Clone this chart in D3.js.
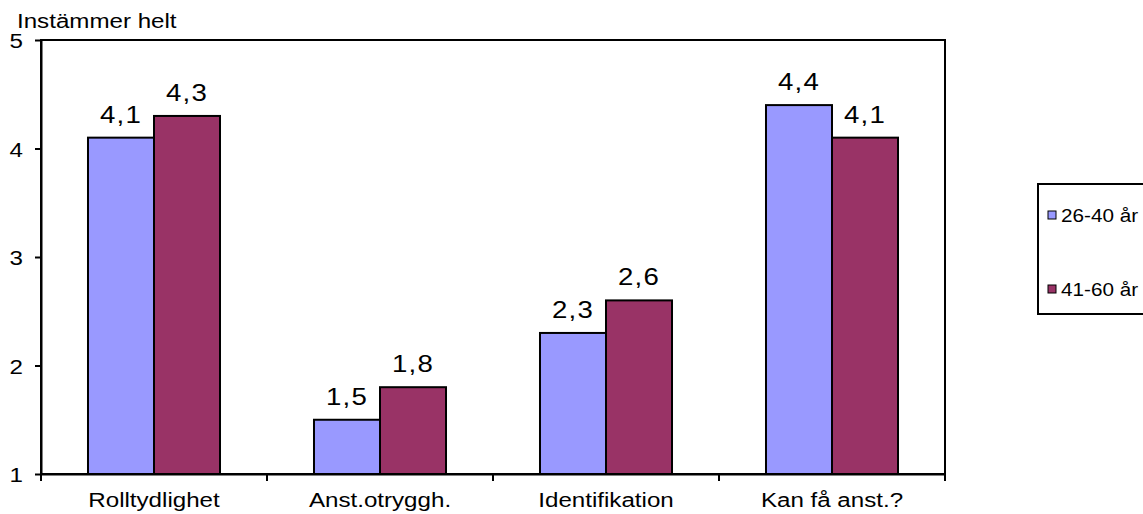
<!DOCTYPE html>
<html>
<head>
<meta charset="utf-8">
<script src="https://cdn.jsdelivr.net/npm/d3@7"></script>
<style>
  body { margin: 0; background: #fff; }
  text { font-family: "Liberation Sans", Arial, sans-serif; fill: #000; }
</style>
</head>
<body>
<div id="chart"></div>
<script>
// Data
const categories = ["Rolltydlighet", "Anst.otryggh.", "Identifikation", "Kan få anst.?"];
const seriesNames = ["26-40 år", "41-60 år"];
const values2640 = [4.1, 1.5, 2.3, 4.4];
const values4160 = [4.3, 1.8, 2.6, 4.1];
const yTicks = [1, 2, 3, 4, 5];
const colors = ["#9999FF", "#993366"];
const yTitle = "Instämmer helt";

const W = 1143, H = 514;
const plotLeft = 41, plotRight = 945, plotTop = 40, plotBottom = 474;
const stretch = 1.15; // original text looks horizontally stretched

const svg = d3.select("#chart").append("svg")
  .attr("width", W)
  .attr("height", H);

const x0 = d3.scaleBand().domain(categories).range([plotLeft, plotRight]).padding(0);
const x1 = d3.scaleBand().domain(seriesNames).range([0, x0.bandwidth()])
  .paddingInner(0).paddingOuter(0.712);
const y = d3.scaleLinear().domain([1, 5]).range([plotBottom, plotTop]);

const rows = categories.map((c, i) => ({
  cat: c,
  vals: [
    { s: seriesNames[0], v: values2640[i], color: colors[0] },
    { s: seriesNames[1], v: values4160[i], color: colors[1] }
  ]
}));

// helper for stretched text
function stext(g, tx, ty, str, size, anchor) {
  return g.append("text")
    .attr("transform", `translate(${tx},${ty}) scale(${stretch},1)`)
    .attr("text-anchor", anchor || "start")
    .style("font-size", size + "px")
    .text(str);
}

// plot frame (top and right)
svg.append("rect")
  .attr("x", plotLeft).attr("y", plotTop)
  .attr("width", plotRight - plotLeft).attr("height", plotBottom - plotTop)
  .attr("fill", "none").attr("stroke", "#000").attr("stroke-width", 2);

// bars
const groups = svg.selectAll(".grp")
  .data(rows)
  .enter().append("g")
  .attr("class", "grp")
  .attr("transform", d => `translate(${x0(d.cat)},0)`);

groups.selectAll("rect")
  .data(d => d.vals)
  .enter().append("rect")
  .attr("x", d => x1(d.s))
  .attr("y", d => y(d.v))
  .attr("width", x1.bandwidth())
  .attr("height", d => y(1) - y(d.v))
  .attr("fill", d => d.color)
  .attr("stroke", "#000")
  .attr("stroke-width", 2);

// value labels
groups.each(function(d) {
  const g = d3.select(this);
  d.vals.forEach(v => {
    stext(g, x1(v.s) + x1.bandwidth() / 2, y(v.v) - 15,
      v.v.toFixed(1).replace(".", ","), 24, "middle")
      .style("letter-spacing", "1px");
  });
});

// y axis
const yAxis = svg.append("g")
  .attr("transform", `translate(${plotLeft},0)`)
  .call(d3.axisLeft(y).tickValues(yTicks).tickSize(6).tickSizeOuter(0).tickFormat(""));
yAxis.select(".domain").attr("stroke-width", 2);
yAxis.selectAll(".tick line").attr("stroke-width", 2);
yTicks.forEach(t => {
  stext(svg, 23, y(t) + 8, String(t), 21, "end");
});

// x axis
const xAxis = svg.append("g")
  .attr("transform", `translate(0,${plotBottom})`)
  .call(d3.axisBottom(x0).tickSize(0).tickSizeOuter(0).tickFormat(""));
xAxis.select(".domain").attr("stroke-width", 2);
// tick marks at category boundaries
const bounds = categories.map(c => x0(c)).concat([plotRight]);
svg.selectAll(".xtick")
  .data(bounds)
  .enter().append("line")
  .attr("x1", d => d).attr("x2", d => d)
  .attr("y1", plotBottom).attr("y2", plotBottom + 7)
  .attr("stroke", "#000").attr("stroke-width", 2);
categories.forEach(c => {
  stext(svg, x0(c) + x0.bandwidth() / 2, 507, c, 21, "middle");
});

// axis title
stext(svg, 17, 28, yTitle, 21, "start");

// legend
const leg = svg.append("g");
leg.append("rect")
  .attr("x", 1038).attr("y", 184)
  .attr("width", 130).attr("height", 130)
  .attr("fill", "#fff").attr("stroke", "#000").attr("stroke-width", 2);
seriesNames.forEach((s, i) => {
  const cy = 215 + i * 74;
  leg.append("rect")
    .attr("x", 1048).attr("y", cy - 4)
    .attr("width", 8).attr("height", 8)
    .attr("fill", colors[i]).attr("stroke", "#000").attr("stroke-width", 1);
  stext(leg, 1061, cy + 7, s, 18, "start");
});
</script>
</body>
</html>
